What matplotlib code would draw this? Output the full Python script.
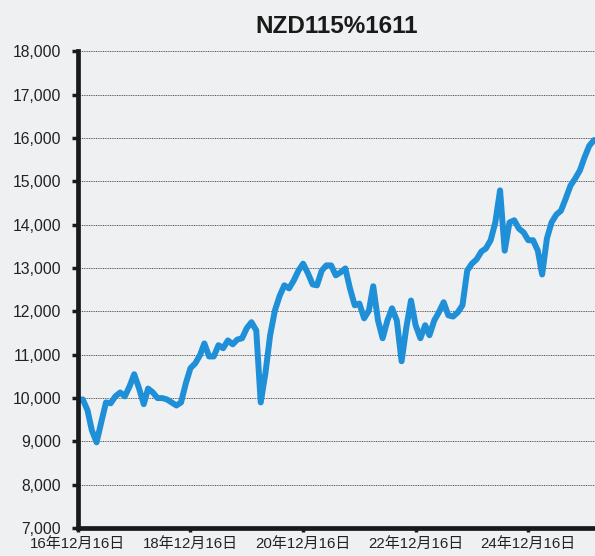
import pandas as pd
import matplotlib.pyplot as plt
from matplotlib.ticker import FuncFormatter, MultipleLocator

plt.rcParams['font.family'] = ['Liberation Sans', 'Noto Sans CJK JP', 'DejaVu Sans']

title = 'NZD115%1611'
start = '2016-12-16'
# monthly values (mid-month), Dec 2016 .. Feb 2026
values = [
    9950, 9970, 9720, 9260, 8980, 9440, 9900, 9880, 10040, 10130, 10040, 10270,
    10550, 10230, 9860, 10220, 10130, 10000, 10000, 9970, 9900, 9830, 9900, 10340,
    10690, 10800, 10990, 11260, 10960, 10960, 11220, 11150, 11330, 11240, 11350, 11380,
    11610, 11750, 11560, 9900, 10590, 11450, 12020, 12350, 12600, 12530, 12710, 12940,
    13100, 12880, 12620, 12600, 12940, 13060, 13060, 12830, 12900, 12990, 12530, 12140,
    12180, 11840, 12020, 12580, 11790, 11380, 11790, 12070, 11790, 10850, 11610, 12250,
    11680, 11380, 11680, 11450, 11790, 11980, 12210, 11910, 11880, 11980, 12140, 12940,
    13100, 13200, 13380, 13450, 13640, 14050, 14790, 13400, 14050, 14100, 13910, 13820,
    13640, 13640, 13400, 12850, 13680, 14050, 14230, 14320, 14600, 14900, 15060, 15250,
    15550, 15820, 15950,
]
tick_dates = ['2016-12-16', '2018-12-16', '2020-12-16', '2022-12-16', '2024-12-16']
tick_labels = ['16年12月16日', '18年12月16日', '20年12月16日', '22年12月16日', '24年12月16日']

dates = pd.date_range(start, periods=len(values), freq=pd.DateOffset(months=1))

bg = '#eff0f2'
fig = plt.figure(figsize=(5.95, 5.56), dpi=100, facecolor=bg)
ax = fig.add_axes([0.131, 0.050, 0.869, 0.858], facecolor=bg)

ax.plot(dates, values, color='#1f8fd8', lw=4.3, solid_joinstyle='round', solid_capstyle='round')

ax.set_ylim(7000, 18000)
ax.yaxis.set_major_locator(MultipleLocator(1000))
ax.yaxis.set_major_formatter(FuncFormatter(lambda v, p: f'{int(v):,}'))
ax.set_xlim(pd.Timestamp(start), pd.Timestamp('2026-02-22'))
ax.set_xticks([pd.Timestamp(d) for d in tick_dates])
ax.set_xticklabels(tick_labels)

ax.grid(axis='y', color='#555555', linestyle=(0, (1, 0.8)), linewidth=0.7)
ax.set_axisbelow(True)
for s in ['top', 'right']:
    ax.spines[s].set_visible(False)
for s in ['left', 'bottom']:
    ax.spines[s].set_linewidth(3.4)
    ax.spines[s].set_color('#1a1a1a')
ax.tick_params(axis='y', length=4, width=2.5, color='#1a1a1a', labelsize=11.3, pad=8, labelcolor='#222222')
ax.tick_params(axis='x', length=3, width=2.5, color='#1a1a1a', labelsize=10.8, pad=3, labelcolor='#222222')

fig.text(0.565, 0.953, title, ha='center', va='center', fontsize=17.5, fontweight='bold', color='#1a1a1a')

fig.savefig('out.png', dpi=100, facecolor=bg)
